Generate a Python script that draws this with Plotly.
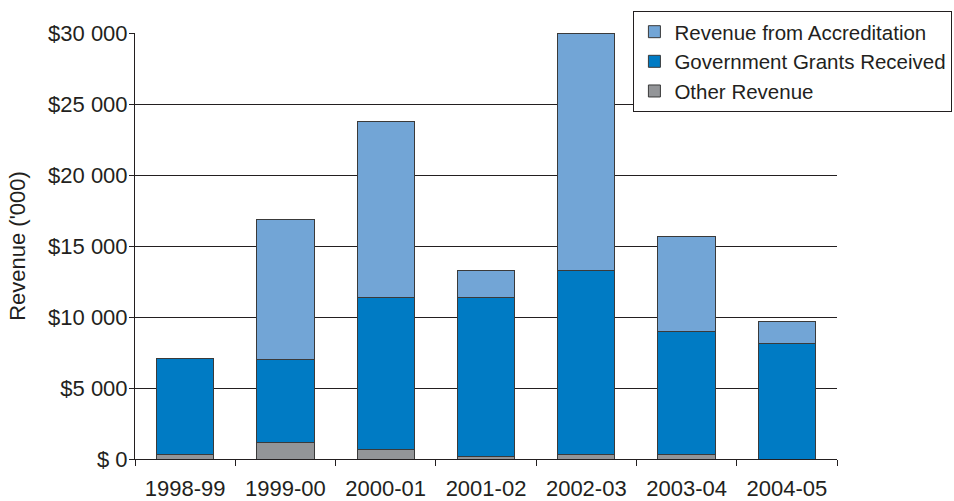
import plotly.graph_objects as go

# Financial years on the category axis
years = ["1998-99", "1999-00", "2000-01", "2001-02", "2002-03", "2003-04", "2004-05"]

# Revenue components, in thousands of dollars
other_revenue = [330, 1180, 650, 160, 330, 330, 0]
government_grants = [6730, 5860, 10710, 11200, 12910, 8635, 8100]
accreditation_revenue = [0, 9860, 12440, 1900, 16760, 6735, 1550]

# Value axis ticks
y_tickvals = [0, 5000, 10000, 15000, 20000, 25000, 30000]
y_ticktext = ["$ 0", "$5 000", "$10 000", "$15 000", "$20 000", "$25 000", "$30 000"]

FONT = "Liberation Sans, Arial, sans-serif"
TEXT = "#231f20"
OUTLINE = dict(color="#3a3a3a", width=1)

fig = go.Figure()
fig.add_trace(go.Bar(x=years, y=other_revenue, name="Other Revenue",
                     marker=dict(color="#939598", line=OUTLINE), legendrank=3))
fig.add_trace(go.Bar(x=years, y=government_grants, name="Government Grants Received",
                     marker=dict(color="#007bc4", line=OUTLINE), legendrank=2))
fig.add_trace(go.Bar(x=years, y=accreditation_revenue, name="Revenue from Accreditation",
                     marker=dict(color="#72a5d6", line=OUTLINE), legendrank=1))

fig.update_layout(
    width=954, height=501,
    margin=dict(l=135, r=117, t=33, b=42, autoexpand=False),
    barmode="stack",
    bargap=0.43,
    plot_bgcolor="white",
    paper_bgcolor="white",
    font=dict(family=FONT, size=22, color=TEXT),
    showlegend=True,
    legend=dict(
        x=0.71, xanchor="left",
        y=1.052, yanchor="top",
        bgcolor="white",
        bordercolor="#231f20", borderwidth=1,
        font=dict(family=FONT, size=20.5, color=TEXT),
        traceorder="normal",
        itemwidth=30,
    ),
    xaxis=dict(
        type="category",
        automargin=False,
        showline=True, linecolor="#231f20", linewidth=1,
        ticks="outside", tickson="boundaries", ticklen=6, tickcolor="#231f20",
        showgrid=False,
        ticklabelstandoff=10,
        tickfont=dict(family=FONT, size=22, color=TEXT),
    ),
    yaxis=dict(
        automargin=False,
        range=[0, 30000],
        tickvals=y_tickvals, ticktext=y_ticktext,
        showline=True, linecolor="#231f20", linewidth=1,
        ticks="outside", ticklen=5, tickcolor="#231f20",
        showgrid=True, gridcolor="#231f20", gridwidth=1,
        zeroline=False,
        ticklabelstandoff=-3,
        tickfont=dict(family=FONT, size=22, color=TEXT),
        title=dict(text="Revenue ('000)", font=dict(family=FONT, size=22, color=TEXT), standoff=16),
    ),
)

fig.write_html("out.html")
